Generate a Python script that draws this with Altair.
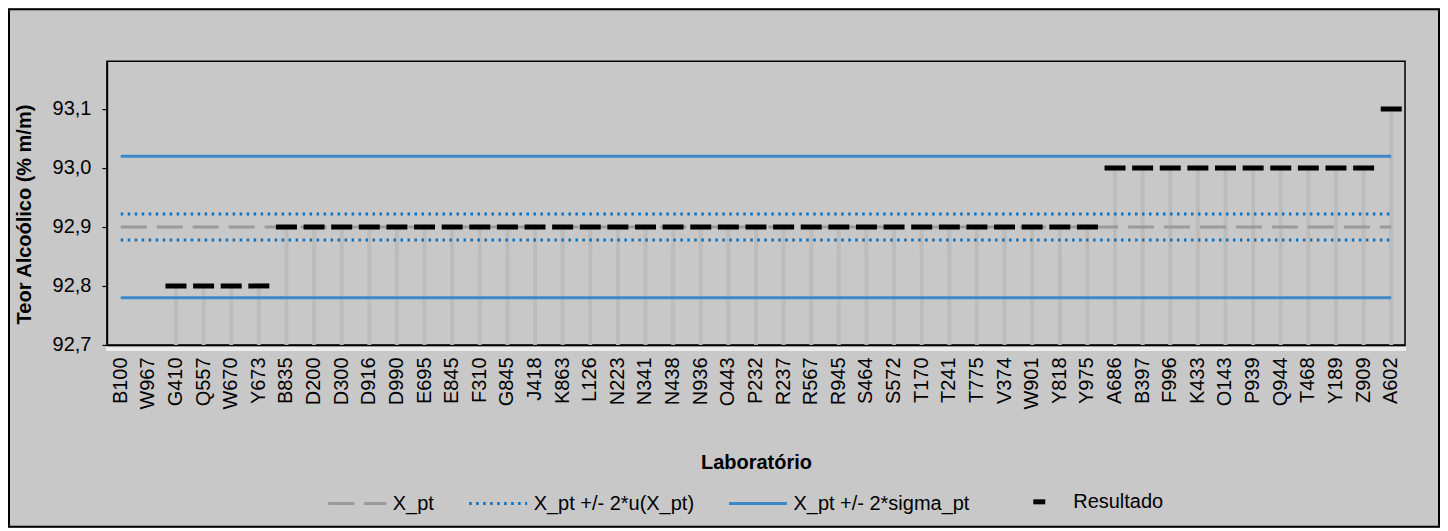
import altair as alt
import pandas as pd

# ---- data ----
laboratorios = ["B100", "W967", "G410", "Q557", "W670", "Y673", "B835", "D200", "D300", "D916",
                "D990", "E695", "E845", "F310", "G845", "J418", "K863", "L126", "N223", "N341",
                "N438", "N936", "O443", "P232", "R237", "R567", "R945", "S464", "S572", "T170",
                "T241", "T775", "V374", "W901", "Y818", "Y975", "A686", "B397", "F996", "K433",
                "O143", "P939", "Q944", "T468", "Y189", "Z909", "A602"]
resultados = [92.6, 92.6, 92.8, 92.8, 92.8, 92.8, 92.9, 92.9, 92.9, 92.9,
              92.9, 92.9, 92.9, 92.9, 92.9, 92.9, 92.9, 92.9, 92.9, 92.9,
              92.9, 92.9, 92.9, 92.9, 92.9, 92.9, 92.9, 92.9, 92.9, 92.9,
              92.9, 92.9, 92.9, 92.9, 92.9, 92.9, 93.0, 93.0, 93.0, 93.0,
              93.0, 93.0, 93.0, 93.0, 93.0, 93.0, 93.1]

x_pt = 92.9
u_2 = 0.022
sigma_2 = 0.12

serie_names = ["X_pt", "X_pt +/- 2*u(X_pt)", "X_pt +/- 2*sigma_pt"]
serie_colors = ["#9a9a9a", "#0a72c4", "#3d88c8"]
serie_dash = [[26, 10], [2.5, 4.5], [1, 0]]
line_ids = ["xpt", "u_up", "u_lo", "s_up", "s_lo"]
line_series = [serie_names[0], serie_names[1], serie_names[1], serie_names[2], serie_names[2]]
line_values = [x_pt, x_pt + u_2, x_pt - u_2, x_pt + sigma_2, x_pt - sigma_2]
y_ticks = [92.7, 92.8, 92.9, 93.0, 93.1]

W, H = 1299, 284
FONT = "Liberation Sans"

df_res = pd.DataFrame({"Laboratório": laboratorios, "valor": resultados,
                       "serie": ["Resultado"] * len(laboratorios)})

rows = []
for lid, s, v in zip(line_ids, line_series, line_values):
    for lab in (laboratorios[0], laboratorios[-1]):
        rows.append({"Laboratório": lab, "valor": v, "serie": s, "id": lid})
df_lines = pd.DataFrame(rows)

x_enc = alt.X("Laboratório:N", sort=laboratorios,
              scale=alt.Scale(paddingInner=0, paddingOuter=0),
              axis=alt.Axis(labelAngle=270, labelFontSize=20, labelColor="black", labelFont=FONT,
                            ticks=False, tickSize=0, labelPadding=12,
                            domainColor="black", domainWidth=1.5,
                            title="Laboratório", titleFontSize=20, titleFontWeight="bold",
                            titleColor="black", titleFont=FONT, titleY=118, titleBaseline="middle"))
y_scale = alt.Scale(domain=[92.7, 93.181], nice=False, zero=False)
y_enc = alt.Y("valor:Q", scale=y_scale,
              axis=alt.Axis(values=y_ticks,
                            labelExpr="replace(format(datum.value, '.1f'), '.', ',')",
                            tickSize=5, tickColor="black", tickWidth=1.2, labelPadding=11,
                            labelFontSize=20, labelColor="black", labelFont=FONT, grid=False,
                            domainColor="black", domainWidth=1.5,
                            title="Teor Alcoólico (% m/m)", titleFontSize=20, titleFontWeight="bold",
                            titleColor="black", titleFont=FONT, titleX=-82, titleY=153,
                            titleBaseline="middle"))

bars = alt.Chart(df_res).mark_bar(size=4, color="#bcbcbc", clip=True).encode(
    x=x_enc, y=y_enc, y2=alt.Y2(datum=92.7))

line_legend = alt.Legend(orient="none", legendX=220, legendY=412, direction="horizontal",
                         title=None, symbolType="stroke", symbolSize=3364, symbolStrokeWidth=3,
                         labelFontSize=20, labelFont=FONT, labelColor="black", labelOffset=5,
                         labelLimit=400, columnPadding=28, padding=0)
lines = alt.Chart(df_lines).mark_line(strokeWidth=3).encode(
    x=alt.X("Laboratório:N", sort=laboratorios),
    y=alt.Y("valor:Q"),
    detail="id:N",
    color=alt.Color("serie:N", scale=alt.Scale(domain=serie_names, range=serie_colors),
                    legend=line_legend),
    strokeDash=alt.StrokeDash("serie:N", scale=alt.Scale(domain=serie_names, range=serie_dash),
                              legend=line_legend),
)

tick_legend = alt.Legend(orient="none", legendX=923, legendY=431, title=None,
                         symbolType="stroke", symbolSize=144, symbolStrokeWidth=5,
                         symbolStrokeColor="black", symbolFillColor="black",
                         labelFontSize=20, labelFont=FONT, labelColor="black", labelOffset=24,
                         labelLimit=400, padding=0)
ticks = alt.Chart(df_res).mark_tick(size=21, thickness=5, clip=True, opacity=1).encode(
    x=alt.X("Laboratório:N", sort=laboratorios),
    y=alt.Y("valor:Q"),
    color=alt.Color("serie:N", scale=alt.Scale(domain=["Resultado"], range=["black"]),
                    legend=tick_legend),
)

one = pd.DataFrame({"k": [0]})
shadow = alt.Chart(one).mark_rule(stroke="#f2f2f2", strokeWidth=4, opacity=0.85).encode(
    x=alt.value(-1), x2=alt.value(W + 1), y=alt.value(H + 4))
border = alt.Chart(one).mark_rect(fillOpacity=0, stroke="black", strokeWidth=2).encode(
    x=alt.value(-98), x2=alt.value(1333), y=alt.value(-52), y2=alt.value(466))

chart = alt.layer(bars, lines, ticks, shadow, border).resolve_scale(
    color="independent", strokeDash="independent"
).properties(
    width=W, height=H,
    autosize=alt.AutoSizeParams(type="none"),
    padding={"left": 99, "top": 53, "right": 35, "bottom": 183},
).configure(background="#c8c8c8", font=FONT).configure_view(
    fill="#c8c8c8", stroke="black", strokeWidth=1.5)

chart.save("out.html", embed_options={"renderer": "svg", "actions": False})
